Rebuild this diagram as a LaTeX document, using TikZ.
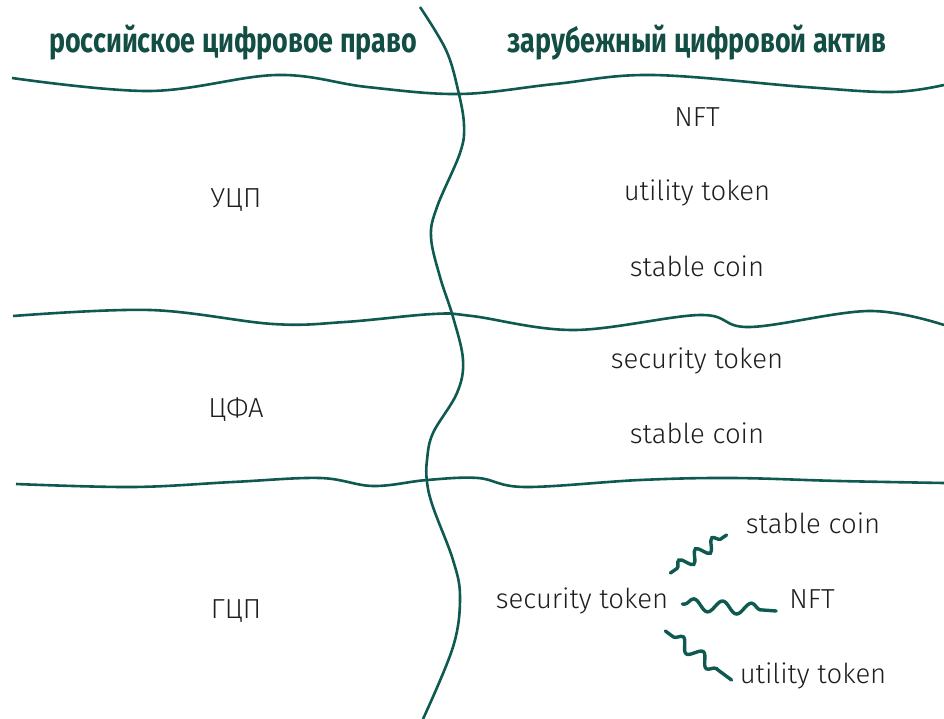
\documentclass[tikz,border=0pt]{standalone}
\usepackage{fontspec}
\setmainfont{Fira Sans}[UprightFont=* Light, BoldFont=* Bold]
\newfontfamily\headfont{Fira Sans}[UprightFont=* Bold, FakeStretch=0.78]
\usetikzlibrary{calc,decorations.pathmorphing}

\definecolor{pine}{RGB}{14,90,80}
\definecolor{pinetext}{RGB}{19,78,68}
\definecolor{ink}{RGB}{30,30,30}

\begin{document}
\begin{tikzpicture}[
    x=1pt, y=-1pt,
    every node/.style={font=\fontsize{27.5}{32}\selectfont, text=ink, inner sep=2pt, anchor=base},
    head/.style={font=\headfont\fontsize{34.5}{40}\selectfont, text=pinetext},
    border/.style={draw=pine, line width=2.6pt},
    squiggle/.style={draw=pine, line width=3.4pt, line cap=round, decorate},
    wave/.style n args={4}{decoration={snake, amplitude=#1, segment length=#2, pre length=#3, post length=#4}}
]
\useasboundingbox (0,0) rectangle (944,719);

% column headers
\node[head] (rulaw) at (233,53) {российское цифровое право};
\node[head] (foreign) at (697,53) {зарубежный цифровой актив};

% wavy row borders
\draw[border] plot[smooth, tension=0.6] coordinates {(12,78) (150,91) (277,75) (367,87) (460,94) (555,84) (652,75) (805,87) (892,92) (944,85)};
\draw[border] plot[smooth, tension=0.6] coordinates {(13,316) (150,310) (273,324) (345,322) (433,314) (472,316) (574,330) (700,315) (750,327) (869,311) (944,325)};
\draw[border] plot[smooth, tension=0.6] coordinates {(16,484) (133,487) (233,482) (320,478) (373,486) (427,480) (478,478) (525,487) (640,480) (732,478) (839,481) (944,483)};

% wavy column border
\draw[border] plot[smooth, tension=0.6] coordinates {(420,7) (446,50) (458,90) (464,125) (460,153) (437,207) (431,237) (440,277) (453,317) (463,360) (457,393) (433,433) (427,460) (427,482) (433,507) (453,560) (460,597) (453,647) (423,719)};

% rows: russian category -> foreign assets
\node (ucp) at (236,208) {УЦП};
\node (nft1) at (697,127) {NFT};
\node (util1) at (697,201) {utility token};
\node (stab1) at (697,276) {stable coin};

\node (cfa) at (236,417) {ЦФА};
\node (sec1) at (697,368) {security token};
\node (stab2) at (697,443) {stable coin};

\node (gcp) at (236,618) {ГЦП};
\node (sec2) at (582,608) {security token};
\node (stab3) at (813,533) {stable coin};
\node (nft2) at (812,608) {NFT};
\node (util2) at (813,683) {utility token};

% squiggly links from security token
\draw[squiggle, wave={6}{20}{8}{6}] ($(sec2.base east)+(0,-35)$) -- ($(stab3.base west)+(-17,2)$);
\draw[squiggle, wave={6}{29}{2}{4}] ($(sec2.base east)+(12,-4)$) -- ($(nft2.base west)+(-11,3)$);
\draw[squiggle, wave={6}{25}{10}{12}] ($(sec2.base east)+(-5,23)$) -- ($(util2.base west)+(-6,-3)$);

\end{tikzpicture}
\end{document}
